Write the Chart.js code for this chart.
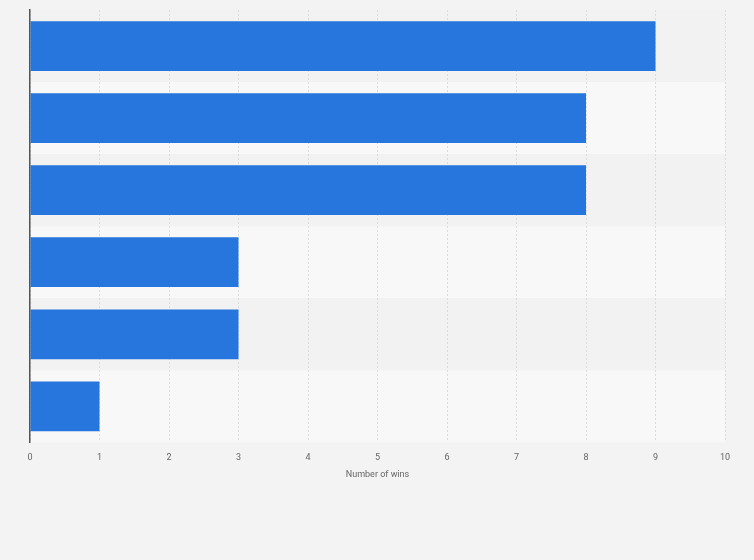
<!DOCTYPE html>
<html>
<head>
<meta charset="utf-8">
<script src="https://cdn.jsdelivr.net/npm/chart.js@4/dist/chart.umd.min.js"></script>
<style>
    html, body { margin: 0; padding: 0; background: #f3f3f3; }
    #wrap { width: 754px; height: 560px; position: relative; }
</style>
</head>
<body>
<div id="wrap"><canvas id="wins"></canvas></div>
<script>
// categories have no visible labels in the picture
var categories = ["", " ", "  ", "   ", "    ", "     "];
var wins = [9, 8, 8, 3, 3, 1];
var xTicks = [0, 1, 2, 3, 4, 5, 6, 7, 8, 9, 10];

// alternating row backgrounds, drawn before the grid so the dashed lines stay on top
var rowBands = {
    id: 'rowBands',
    beforeDraw: function (chart) {
        var ctx = chart.ctx;
        var area = chart.chartArea;
        var yScale = chart.scales.y;
        var band = (area.bottom - area.top) / categories.length;
        ctx.save();
        for (var i = 0; i < categories.length; i++) {
            var mid = yScale.getPixelForValue(i);
            ctx.fillStyle = (i % 2 === 0) ? '#f2f2f2' : '#f8f8f8';
            ctx.fillRect(area.left, mid - band / 2, area.right - area.left, band);
        }
        ctx.restore();
    }
};

Chart.defaults.font.family = 'Roboto, "Liberation Sans", sans-serif';

var config = {
    type: 'bar',
    data: {
        labels: categories,
        datasets: [{
            label: 'Number of wins',
            data: wins,
            backgroundColor: '#2776dd',
            borderWidth: 0,
            categoryPercentage: 0.69,
            barPercentage: 1
        }]
    },
    options: {
        indexAxis: 'y',
        responsive: true,
        maintainAspectRatio: false,
        animation: false,
        layout: { padding: { left: 30, right: 29, top: 10, bottom: 80 } },
        plugins: {
            legend: { display: false },
            tooltip: { enabled: false }
        },
        scales: {
            x: {
                min: 0,
                max: 10,
                afterBuildTicks: function (axis) {
                    axis.ticks = xTicks.map(function (v) { return { value: v }; });
                },
                grid: {
                    color: '#dcdcdc',
                    lineWidth: 1,
                    drawTicks: false
                },
                border: { display: false, dash: [2, 2] },
                ticks: {
                    color: '#666',
                    font: { size: 9 },
                    padding: 10
                },
                title: {
                    display: true,
                    text: 'Number of wins',
                    color: '#666',
                    font: { size: 9 },
                    padding: { top: -4, bottom: 0 }
                }
            },
            y: {
                grid: { display: false, drawTicks: false },
                border: { display: true, color: '#555', width: 1.5 },
                ticks: { display: false }
            }
        }
    },
    plugins: [rowBands]
};

const winsChart = new Chart(document.getElementById('wins'), config);
</script>
</body>
</html>
